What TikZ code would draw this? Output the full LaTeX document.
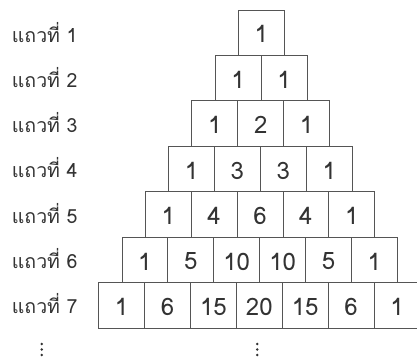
\documentclass[tikz,border=0pt]{standalone}
\usepackage{fontspec}
\newfontfamily\thaifont[Script=Thai]{Loma}
\definecolor{linecol}{HTML}{555555}
\definecolor{textcol}{HTML}{333333}
\tikzset{
  cellbox/.style={draw=linecol, line width=0.9pt, minimum width=45.9pt, minimum height=45.45pt,
    inner sep=0pt, anchor=north west},
  cellnum/.style={inner sep=0pt, font=\thaifont\fontsize{24}{24}\selectfont, text=textcol, yshift=-1.5pt},
  rowlabel/.style={anchor=base west, inner sep=0pt, font=\thaifont\fontsize{19.5}{19.5}\selectfont, text=textcol},
  dotmark/.style={fill=textcol, draw=none}
}
\begin{document}
\begin{tikzpicture}[x=1pt,y=-1pt]
\useasboundingbox (0,0) rectangle (417,358);
\clip (0,0) rectangle (417,358);
\foreach \k/\vals in {1/{1},2/{1,1},3/{1,2,1},4/{1,3,3,1},5/{1,4,6,4,1},6/{1,5,10,10,5,1},7/{1,6,15,20,15,6,1}}{
  \node[rowlabel] (lab\k) at (11.7,{42.7+45.1*(\k-1)}) {แถวที่ \k};
  \foreach \v [count=\i] in \vals {
    \node[cellbox] (c\k-\i) at ({238-23.3*(\k-1)+45.9*(\i-1)},{9.6+45.45*(\k-1)}) {};
    \node[cellnum] (n\k-\i) at (c\k-\i.center) {\v};
  }
}
\foreach \xx in {41.7,257.3}{
  \foreach \yy in {344,349.5,355}{
    \fill[dotmark] (\xx,\yy) circle (1.4);
  }
}
\end{tikzpicture}
\end{document}
